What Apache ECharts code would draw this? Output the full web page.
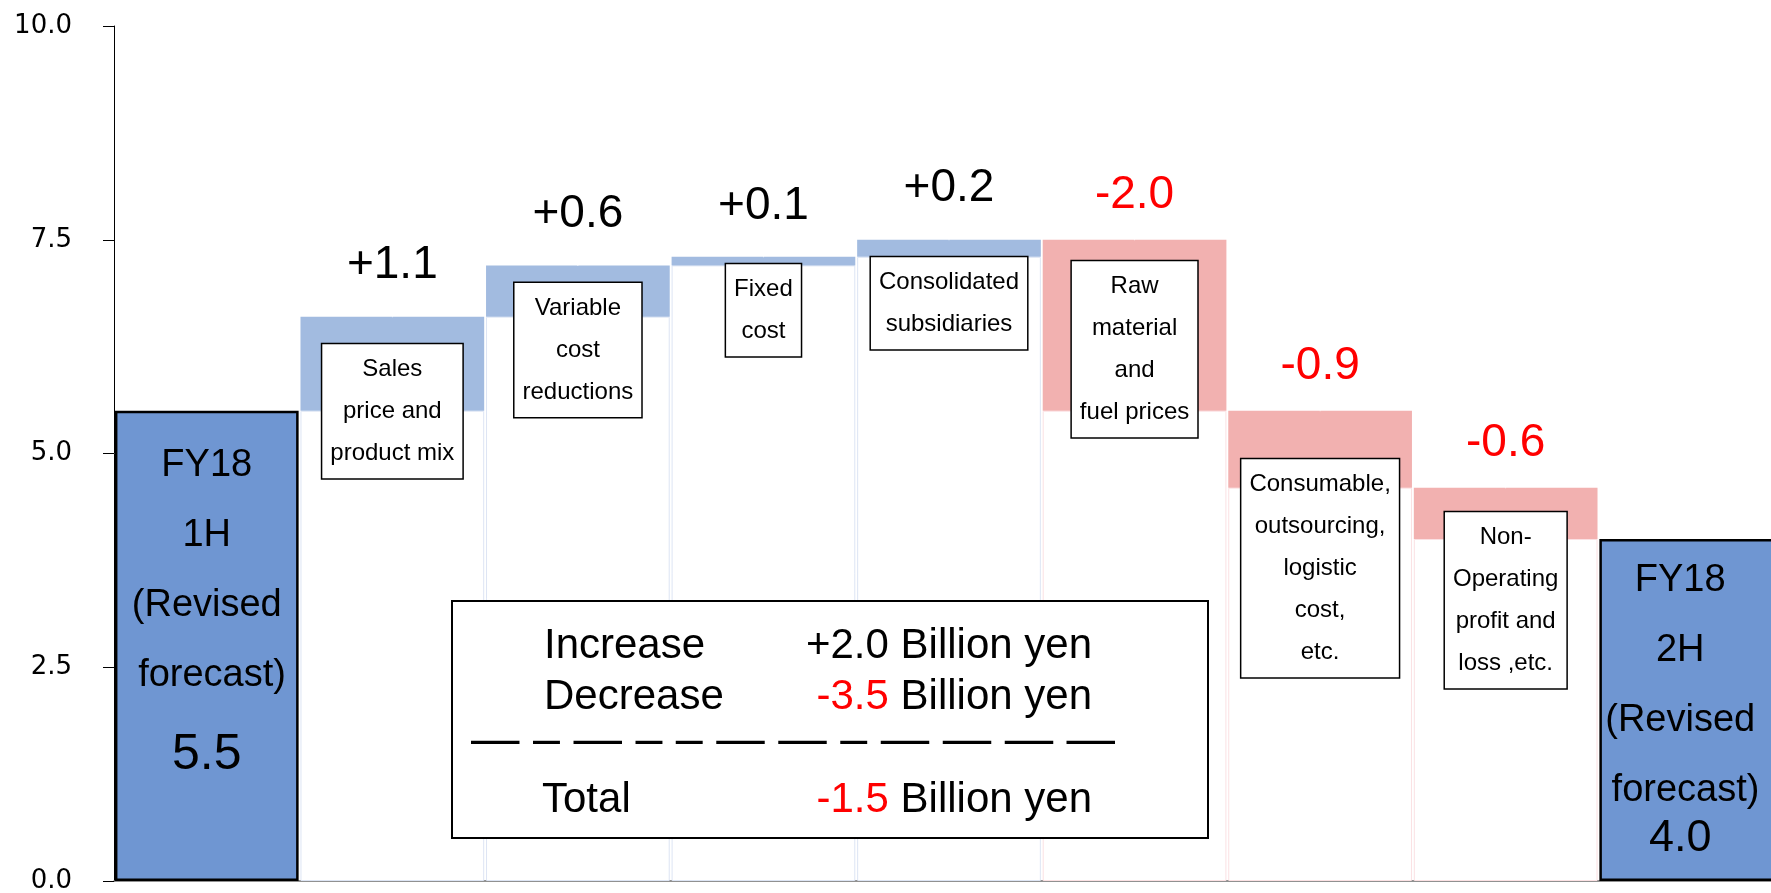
<!DOCTYPE html>
<html><head><meta charset="utf-8">
<script src="https://cdn.jsdelivr.net/npm/echarts@6/dist/echarts.min.js"></script>
<style>html,body{margin:0;padding:0;background:#fff}#c{width:1771px;height:893px}</style>
</head><body><div id="c"></div>
<script>
// ---- data ----
const categories = [
  'FY18\n1H\n(Revised\n forecast)',
  'Sales\nprice and\nproduct mix',
  'Variable\ncost\nreductions',
  'Fixed\ncost',
  'Consolidated\nsubsidiaries',
  'Raw\nmaterial\nand\nfuel prices',
  'Consumable,\noutsourcing,\nlogistic\ncost,\netc.',
  'Non-\nOperating\nprofit and\nloss ,etc.',
  'FY18\n2H\n(Revised\n forecast)'
];
const startValue = 5.5;
const changes = [1.1, 0.6, 0.1, 0.2, -2.0, -0.9, -0.6];
const endValue = 4.0;
const yTicks = [0, 2.5, 5, 7.5, 10];
const unitText = 'Billion yen';

// ---- layout (pixels, not data) ----
const boxGaps = [27, 17, 7, 17, 21, 48, 24];

// ---- derived series ----
const base = ['-'], inc = ['-'], dec = ['-'], tops = ['-'];
let cum = startValue;
changes.forEach(d => {
  const next = Math.round((cum + d) * 100) / 100;
  if (d >= 0) { base.push(cum); inc.push(d); dec.push('-'); tops.push(next); }
  else { base.push(next); inc.push('-'); dec.push(-d); tops.push(cum); }
  cum = next;
});
base.push('-'); inc.push('-'); dec.push('-'); tops.push('-');
const totals = [startValue].concat(changes.map(() => '-')).concat([endValue]);

const incSum = changes.filter(d => d > 0).reduce((a, b) => a + b, 0);
const decSum = changes.filter(d => d < 0).reduce((a, b) => a + b, 0);
const netSum = endValue - startValue;
const fmt = v => (v > 0 ? '+' : '') + v.toFixed(1);

const baseStyle = base.map((v, i) => v === '-' ? {} :
  { color: 'rgba(0,0,0,0)', borderColor: changes[i - 1] >= 0 ? '#dde5f4' : '#fbe1e3', borderWidth: 1 });

const totalData = totals.map((v, i) => {
  if (v === '-') return '-';
  const last = i === totals.length - 1;
  return {
    value: v,
    label: {
      distance: last ? 7 : 20,
      offset: last ? [-11, 0] : [0, 0],
      formatter: () => categories[i].split('\n').map(s => '{t|' + s + '}').join('\n') +
        '\n{' + (last ? 'w' : 'v') + '|' + v.toFixed(1) + '}'
    }
  };
});

const FONT = '"Liberation Sans", Arial, sans-serif';
const chart = echarts.init(document.getElementById('c'));
chart.setOption({
  animation: false,
  backgroundColor: '#fff',
  grid: { left: 114, right: -13, top: 26, bottom: 12, containLabel: false, outerBoundsMode: 'none' },
  xAxis: {
    type: 'category', data: categories, boundaryGap: true,
    axisLine: { show: true, lineStyle: { color: '#6e6e6e', width: 1.5 } },
    axisTick: { show: false }, axisLabel: { show: false }, splitLine: { show: false }
  },
  yAxis: {
    type: 'value', min: yTicks[0], max: yTicks[yTicks.length - 1], interval: yTicks[1] - yTicks[0],
    axisLine: { show: true, lineStyle: { color: '#000', width: 1 } },
    axisTick: { show: true, inside: false, length: 11, lineStyle: { color: '#000', width: 1 } },
    axisLabel: { formatter: v => v.toFixed(1), color: '#000', fontSize: 26, fontFamily: '"DejaVu Sans", sans-serif', margin: 42 },
    splitLine: { show: false }
  },
  series: [
    {
      type: 'bar', stack: 'w', z: 2,
      data: base.map((v, i) => v === '-' ? '-' : { value: v, itemStyle: baseStyle[i] }),
      itemStyle: { color: 'rgba(0,0,0,0)' }, silent: true
    },
    {
      type: 'bar', stack: 'w', z: 3, data: inc,
      itemStyle: { color: '#a2bbe0' },
      label: { show: true, position: 'top', distance: 28, formatter: p => fmt(p.value),
        fontSize: 46, lineHeight: 46, color: '#000', fontFamily: FONT }
    },
    {
      type: 'bar', stack: 'w', z: 3, data: dec,
      itemStyle: { color: '#f2b1b0' },
      label: { show: true, position: 'top', distance: 21, formatter: p => fmt(-p.value),
        fontSize: 46, lineHeight: 46, color: '#ff0000', fontFamily: FONT }
    },
    {
      type: 'bar', stack: 'w', z: 3, data: totalData, barCategoryGap: '1%',
      itemStyle: { color: '#6f96d2', borderColor: '#000', borderWidth: 2.5 },
      label: { show: true, position: 'insideTop', color: '#000', fontFamily: FONT,
        rich: {
          t: { fontSize: 38, lineHeight: 70, color: '#000', fontFamily: FONT },
          v: { fontSize: 50, lineHeight: 88, color: '#000', fontFamily: FONT },
          w: { fontSize: 45, lineHeight: 25, color: '#000', fontFamily: FONT }
        } }
    },
    {
      type: 'scatter', z: 6, symbolSize: 1, silent: true,
      itemStyle: { color: '#ffffff', opacity: 1 },
      data: tops.map((v, i) => v === '-' ? '-' : { value: v, label: { distance: boxGaps[i - 1] } }),
      label: { show: true, position: 'bottom', formatter: p => categories[p.dataIndex],
        fontSize: 24, lineHeight: 42, color: '#000', fontFamily: FONT, align: 'center', opacity: 1,
        backgroundColor: '#fff', borderColor: '#000', borderWidth: 1.5, padding: [4, 8] }
    }
  ],
  graphic: [{
    type: 'group', z: 100, children: [
      { type: 'rect', z: 100, shape: { x: 452, y: 601, width: 756, height: 237 },
        style: { fill: '#fff', stroke: '#000', lineWidth: 2 } },
      { type: 'text', z: 101, x: 544, y: 646, style: { text: 'Increase', fontSize: 42, fontFamily: FONT, fill: '#000', verticalAlign: 'middle' } },
      { type: 'text', z: 101, x: 1092, y: 646, style: { text: '{k|' + fmt(incSum) + '} ' + unitText, fontSize: 42, fontFamily: FONT, fill: '#000', align: 'right', verticalAlign: 'middle',
        rich: { k: { fill: '#000', fontSize: 42, fontFamily: FONT } } } },
      { type: 'text', z: 101, x: 544, y: 697, style: { text: 'Decrease', fontSize: 42, fontFamily: FONT, fill: '#000', verticalAlign: 'middle' } },
      { type: 'text', z: 101, x: 1092, y: 697, style: { text: '{r|' + fmt(decSum) + '} ' + unitText, fontSize: 42, fontFamily: FONT, fill: '#000', align: 'right', verticalAlign: 'middle',
        rich: { r: { fill: '#ff0000', fontSize: 42, fontFamily: FONT } } } },
      { type: 'text', z: 101, x: 471, y: 742, style: { text: '— – — – – — — – — — — —', fontSize: 48.5, fontFamily: FONT, fill: '#000', verticalAlign: 'middle' } },
      { type: 'text', z: 101, x: 542, y: 800, style: { text: 'Total', fontSize: 42, fontFamily: FONT, fill: '#000', verticalAlign: 'middle' } },
      { type: 'text', z: 101, x: 1092, y: 800, style: { text: '{r|' + fmt(netSum) + '} ' + unitText, fontSize: 42, fontFamily: FONT, fill: '#000', align: 'right', verticalAlign: 'middle',
        rich: { r: { fill: '#ff0000', fontSize: 42, fontFamily: FONT } } } }
    ]
  }]
});
</script></body></html>
